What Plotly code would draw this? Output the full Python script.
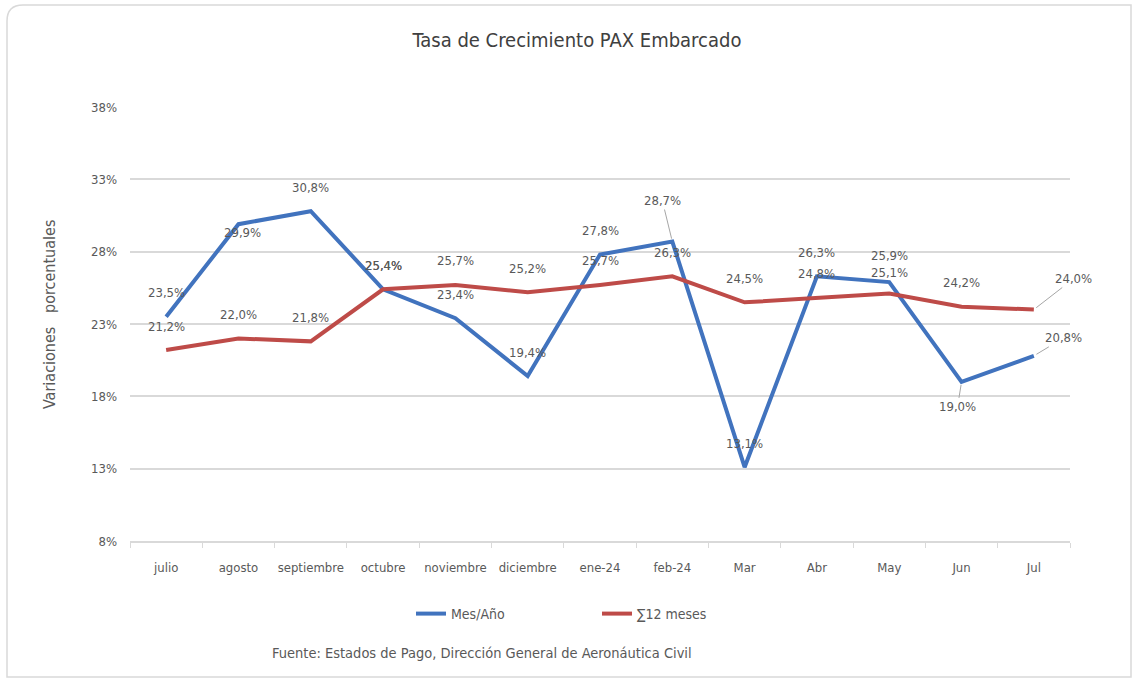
import plotly.graph_objects as go

categories = ["julio", "agosto", "septiembre", "octubre", "noviembre", "diciembre",
              "ene-24", "feb-24", "Mar", "Abr", "May", "Jun", "Jul"]
mes_anio = [23.5, 29.9, 30.8, 25.4, 23.4, 19.4, 27.8, 28.7, 13.1, 26.3, 25.9, 19.0, 20.8]
suma_12 = [21.2, 22.0, 21.8, 25.4, 25.7, 25.2, 25.7, 26.3, 24.5, 24.8, 25.1, 24.2, 24.0]
y_ticks = [8, 13, 18, 23, 28, 33, 38]

FONT = "DejaVu Sans Condensed, Liberation Sans Narrow, Open Sans, sans-serif"
GRAY = "#595959"
BLUE = "#4173be"
RED = "#be4b48"

W, H = 1135, 680
L, R, T, B = 130, 1070, 107, 541


def px(x):
    return (x - L) / (R - L)


def py(y):
    return (B - y) / (B - T)


def fmt(v):
    return f"{v:.1f}%".replace(".", ",")


fig = go.Figure()
fig.add_trace(go.Scatter(x=categories, y=mes_anio, mode="lines", name="Mes/Año",
                         line=dict(color=BLUE, width=4), hoverinfo="skip"))
fig.add_trace(go.Scatter(x=categories, y=suma_12, mode="lines", name="∑12 meses",
                         line=dict(color=RED, width=4), hoverinfo="skip"))

# label placement (pixel offsets); default: centered 24px above the point
# entries: (dx, dy, arrow) ; for arrows dx/dy are plotly ax/ay (ay<0 = above)
blue_off = {1: (4, -8, False), 7: (-10, -41, True), 10: (0, 27, False),
            11: (-4, 25, True), 12: (30, -18, True)}
red_off = {10: (0, 21, False), 12: (40, -31, True)}

annotations = []
for series, offs in ((mes_anio, blue_off), (suma_12, red_off)):
    for i, (c, v) in enumerate(zip(categories, series)):
        dx, dy, arrow = offs.get(i, (0, 24, False))
        a = dict(x=c, y=v, xref="x", yref="y", text=fmt(v),
                 font=dict(family=FONT, size=13, color=GRAY))
        if arrow:
            a.update(showarrow=True, ax=dx, ay=dy, axref="pixel", ayref="pixel",
                     arrowhead=0, arrowwidth=1, arrowcolor="#a6a6a6", standoff=3)
        else:
            a.update(showarrow=False, xshift=dx, yshift=dy)
        annotations.append(a)

annotations.append(dict(x=px(49), y=py(315), xref="paper", yref="paper",
                        xanchor="center", yanchor="middle",
                        text="Variaciones   porcentuales", textangle=-90, showarrow=False,
                        font=dict(family=FONT, size=16, color=GRAY)))
annotations.append(dict(x=px(482), y=py(663), xref="paper", yref="paper",
                        text="Fuente: Estados de Pago, Dirección General de Aeronáutica Civil",
                        showarrow=False, font=dict(family=FONT, size=14.5, color=GRAY)))

# rounded outer border
x0, y0, x1, y1, r = 7, 5, 1131, 677, 16
path = (f"M {px(x0 + r)},{py(y0)} L {px(x1)},{py(y0)} L {px(x1)},{py(y1)} "
        f"L {px(x0)},{py(y1)} L {px(x0)},{py(y0 + r)} "
        f"Q {px(x0)},{py(y0)} {px(x0 + r)},{py(y0)}")

fig.update_layout(
    width=W, height=H,
    margin=dict(l=L, r=W - R, t=T, b=H - B),
    paper_bgcolor="white", plot_bgcolor="white",
    title=dict(text="Tasa de Crecimiento PAX Embarcado", x=px(577), xanchor="center",
               y=1 - 40 / H, yanchor="middle", xref="paper", yref="container",
               font=dict(family=FONT, size=20, color="#404040")),
    xaxis=dict(type="category", showgrid=False, showline=True, linecolor="#d9d9d9",
               linewidth=1.5, ticks="outside", tickson="boundaries", ticklen=5,
               tickcolor="#d9d9d9", tickangle=0, ticklabelstandoff=14,
               tickfont=dict(family=FONT, size=13, color=GRAY),
               range=[-0.5, len(categories) - 0.5], fixedrange=True),
    yaxis=dict(range=[8, 38], tickvals=y_ticks, ticktext=[f"{t}%" for t in y_ticks],
               showgrid=True, gridcolor="#d9d9d9", gridwidth=1.5, zeroline=False,
               showline=False, ticks="", ticklabelstandoff=12,
               tickfont=dict(family=FONT, size=13, color=GRAY), fixedrange=True),
    showlegend=True,
    legend=dict(orientation="h", x=px(411), xanchor="left", y=py(614), yanchor="middle",
                entrywidth=141, entrywidthmode="pixels",
                font=dict(family=FONT, size=14, color=GRAY), bgcolor="rgba(0,0,0,0)"),
    annotations=annotations,
    shapes=[dict(type="path", path=path, xref="paper", yref="paper",
                 line=dict(color="#d9d9d9", width=1.5), layer="below")],
)

fig.write_html("out.html", config={"displayModeBar": False},
               post_script="document.body.style.margin='0';")
